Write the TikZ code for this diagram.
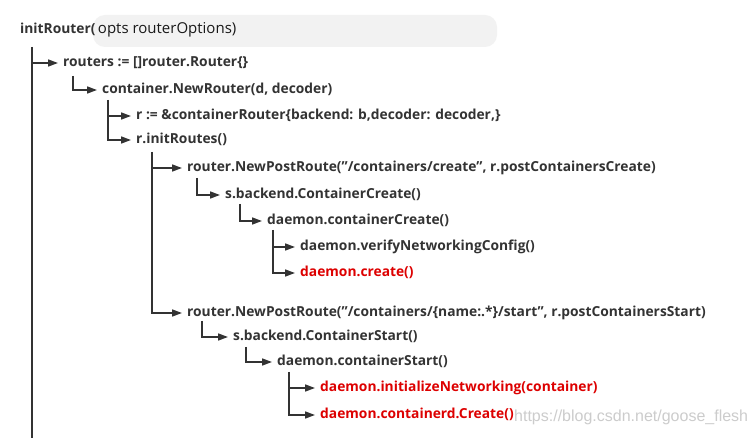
\documentclass[tikz,border=0pt]{standalone}
\usepackage{fontspec}
\setmainfont{Open Sans}
\newfontfamily\wmfont{Liberation Sans}
\usetikzlibrary{arrows.meta}
\definecolor{ink}{HTML}{333333}
\definecolor{hot}{HTML}{DD0000}
\begin{document}
\begin{tikzpicture}[x=1pt,y=-1pt,
  call/.style={anchor=west,inner sep=0pt,text height=8pt,text depth=0pt,
    font=\fontsize{13.8}{15}\selectfont\bfseries,text=ink},
  hotcall/.style={call,text=hot},
  link/.style={draw=ink,line width=1.6pt},
  arr/.style={link,-{Triangle[length=10pt,width=7pt]},shorten >=5pt}]
\useasboundingbox (0,0) rectangle (753,438);
\fill[white] (0,0) rectangle (753,438);
% redaction blur
\fill[gray!10,rounded corners=12pt] (93,15) rectangle (497,47);
% texts
\node[call] (init) at (20,30) {initRouter(\mdseries\fontsize{15}{17}\selectfont\color{black!90}\,opts routerOptions)};
\node[call] (routers) at (63,63) {routers := []router.Router\{\}};
\node[call] (newr) at (102,90) {container.NewRouter(d, decoder)};
\node[call] (rassign) at (136,116) {r := \&containerRouter\{backend: b,decoder: decoder,\}};
\node[call] (initr) at (136,140) {r.initRoutes()};
\node[call] (npr1) at (187,168) {router.NewPostRoute("/containers/create", r.postContainersCreate)};
\node[call] (sbc) at (225,195) {s.backend.ContainerCreate()};
\node[call] (dcc) at (267,221) {daemon.containerCreate()};
\node[call] (vnc) at (300,247) {daemon.verifyNetworkingConfig()};
\node[hotcall] (dcr) at (300,273) {daemon.create()};
\node[call] (npr2) at (187,313) {router.NewPostRoute("/containers/\{name:.*\}/start", r.postContainersStart)};
\node[call] (sbs) at (233,337) {s.backend.ContainerStart()};
\node[call] (dcs) at (277,362) {daemon.containerStart()};
\node[hotcall] (din) at (320,388) {daemon.initializeNetworking(container)};
\node[hotcall] (dcd) at (320,415) {daemon.containerd.Create()};
\node[anchor=base west,inner sep=0pt,font=\wmfont\fontsize{16}{18}\selectfont,text=black!20] (wm) at (514,421) {https://blog.csdn.net/goose\_flesh};
% trunk coordinates
\coordinate (t0) at (32,47);
\coordinate (t0end) at (32,438);
\coordinate (t1) at (73,76);
\coordinate (t2) at (108,100);
\coordinate (t3) at (152,152);
\coordinate (t4) at (197,178);
\coordinate (t5) at (240,204);
\coordinate (t6) at (273,230);
\coordinate (t7) at (202,321);
\coordinate (t8) at (246,347);
\coordinate (t9) at (289,372);
% connectors
\draw[link] (t0) -- (t0end);
\draw[arr] (t0 |- routers.west) -- (routers.west);
\draw[arr] (t1) |- (newr.west);
\draw[arr] (t2 |- rassign.west) -- (rassign.west);
\draw[arr] (t2) |- (initr.west);
\draw[arr] (t3 |- npr1.west) -- (npr1.west);
\draw[arr] (t3) |- (npr2.west);
\draw[arr] (t4) |- (sbc.west);
\draw[arr] (t5) |- (dcc.west);
\draw[arr] (t6 |- vnc.west) -- (vnc.west);
\draw[arr] (t6) |- (dcr.west);
\draw[arr] (t7) |- (sbs.west);
\draw[arr] (t8) |- (dcs.west);
\draw[arr] (t9 |- din.west) -- (din.west);
\draw[arr] (t9) |- (dcd.west);
\end{tikzpicture}
\end{document}
